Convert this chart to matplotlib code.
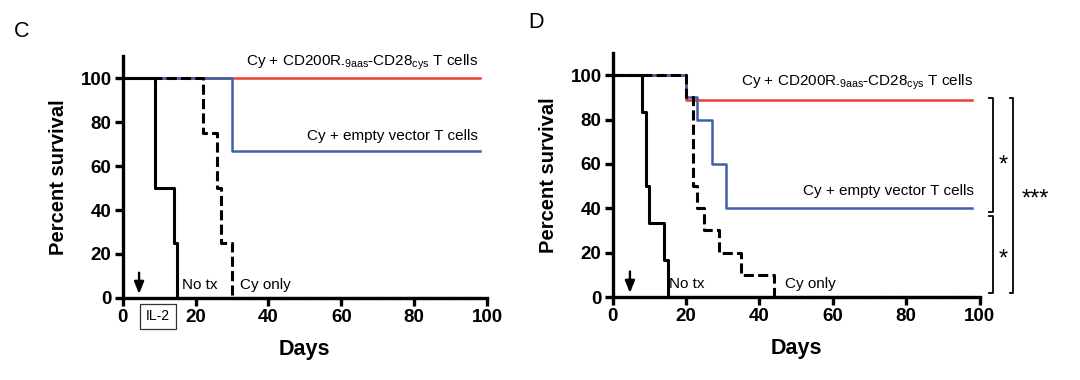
import matplotlib
matplotlib.use("Agg")
import matplotlib.pyplot as plt

plt.rcParams['font.family'] = ['Liberation Sans', 'DejaVu Sans']
plt.rcParams['mathtext.fontset'] = 'custom'
plt.rcParams['mathtext.rm'] = 'Liberation Sans'
plt.rcParams['mathtext.it'] = 'Liberation Sans:italic'
plt.rcParams['mathtext.bf'] = 'Liberation Sans:bold'

# ---- panel C data (days, percent survival) ----
c_notx_days = [0, 9, 14, 15, 98]
c_notx_surv = [100, 50, 25, 0, 0]
c_cy_days = [0, 22, 26, 27, 30, 98]
c_cy_surv = [100, 75, 50, 25, 0, 0]
c_empty_days = [0, 30, 98]
c_empty_surv = [100, 66.7, 66.7]
c_cd200_days = [0, 98]
c_cd200_surv = [100, 100]

# ---- panel D data ----
d_notx_days = [0, 8, 9, 10, 14, 15, 98]
d_notx_surv = [100, 83.3, 50, 33.3, 16.7, 0, 0]
d_cy_days = [0, 20, 22, 23, 25, 29, 35, 44, 98]
d_cy_surv = [100, 90, 50, 40, 30, 20, 10, 0, 0]
d_empty_days = [0, 20, 23, 27, 31, 98]
d_empty_surv = [100, 90, 80, 60, 40, 40]
d_cd200_days = [0, 20, 98]
d_cd200_surv = [100, 88.9, 88.9]

# significance brackets in panel D: (top, bottom, label)
d_brackets = [(89.5, 38.5, '*'), (36.5, 2, '*')]
d_outer = (89.5, 2, '***')

cd200_label = r'Cy + CD200R$_{\text{-9aas}}$-CD28$_{\text{cys}}$ T cells'
empty_label = 'Cy + empty vector T cells'

RED = '#e8412f'
BLUE = '#3f5fa8'


def style_axes(ax):
    ax.set_xlim(0, 100)
    ax.set_ylim(0, 110)
    ax.set_xticks([0, 20, 40, 60, 80, 100])
    ax.set_yticks([0, 20, 40, 60, 80, 100])
    for s in ['top', 'right']:
        ax.spines[s].set_visible(False)
    for s in ['left', 'bottom']:
        ax.spines[s].set_linewidth(2.4)
    ax.spines['bottom'].set_bounds(0, 100)
    ax.tick_params(width=2.4, length=6, direction='out', pad=2)
    for lab in ax.get_xticklabels() + ax.get_yticklabels():
        lab.set_fontweight('bold')
        lab.set_fontsize(13.5)
    ax.set_xlabel('Days', fontsize=15.5, fontweight='bold', labelpad=9)
    ax.set_ylabel('Percent survival', fontsize=14.5, fontweight='bold', labelpad=9)


def draw_curves(ax, cd, cs, ed, es, yd, ys, nd, ns):
    ax.step(cd, cs, where='post', color=RED, lw=1.8, zorder=2, clip_on=False)
    ax.step(ed, es, where='post', color=BLUE, lw=1.8, zorder=3, clip_on=False)
    ax.step(yd, ys, where='post', color='black', lw=2.2, ls=(0, (3.3, 1.4)),
            zorder=4, clip_on=False)
    ax.step(nd, ns, where='post', color='black', lw=2.2, zorder=5, clip_on=False)


def down_arrow(ax, x):
    ax.annotate('', xy=(x, 1.8), xytext=(x, 11.5),
                arrowprops=dict(arrowstyle='-|>,head_length=0.4,head_width=0.16',
                                color='black', lw=1.7, mutation_scale=18,
                                shrinkA=0, shrinkB=0))


fig = plt.figure(figsize=(10.8, 3.8), dpi=100)
axc = fig.add_axes([0.1136, 0.2158, 0.3373, 0.6368])
axd = fig.add_axes([0.5673, 0.2184, 0.3398, 0.6421])

# panel C
draw_curves(axc, c_cd200_days, c_cd200_surv, c_empty_days, c_empty_surv,
            c_cy_days, c_cy_surv, c_notx_days, c_notx_surv)
style_axes(axc)
axc.text(97.5, 107, cd200_label, ha='right', va='center', fontsize=11)
axc.text(97.5, 73.6, empty_label, ha='right', va='center', fontsize=11)
axc.text(16.2, 6, 'No tx', ha='left', va='center', fontsize=11)
axc.text(32.3, 6, 'Cy only', ha='left', va='center', fontsize=11)
down_arrow(axc, 4.5)
axc.text(9.7, -8.4, 'IL-2', ha='center', va='center', fontsize=10,
         clip_on=False, zorder=10,
         bbox=dict(boxstyle='square,pad=0.4', fc='white', ec='#333333', lw=0.9))
fig.text(0.013, 0.917, 'C', fontsize=15.5, ha='left', va='center')

# panel D
draw_curves(axd, d_cd200_days, d_cd200_surv, d_empty_days, d_empty_surv,
            d_cy_days, d_cy_surv, d_notx_days, d_notx_surv)
style_axes(axd)
axd.text(98.3, 96.8, cd200_label, ha='right', va='center', fontsize=11)
axd.text(98.3, 47.7, empty_label, ha='right', va='center', fontsize=11)
axd.text(15.3, 6, 'No tx', ha='left', va='center', fontsize=11)
axd.text(47, 6, 'Cy only', ha='left', va='center', fontsize=11)
down_arrow(axd, 4.7)
star_baselines = [56.4, 14.1]
for (top, bot, lab), yb in zip(d_brackets, star_baselines):
    axd.plot([102.5, 103.7, 103.7, 102.5], [top, top, bot, bot], color='black',
             lw=1.3, clip_on=False)
    axd.text(106.3, yb, lab, ha='center', va='baseline', fontsize=17)
top, bot, lab = d_outer
axd.plot([108.3, 109.2, 109.2, 108.3], [top, top, bot, bot], color='black',
         lw=1.3, clip_on=False)
axd.text(115.3, 41.2, lab, ha='center', va='baseline', fontsize=17)
fig.text(0.489, 0.94, 'D', fontsize=15.5, ha='left', va='center')

fig.savefig('out.png', dpi=100)
